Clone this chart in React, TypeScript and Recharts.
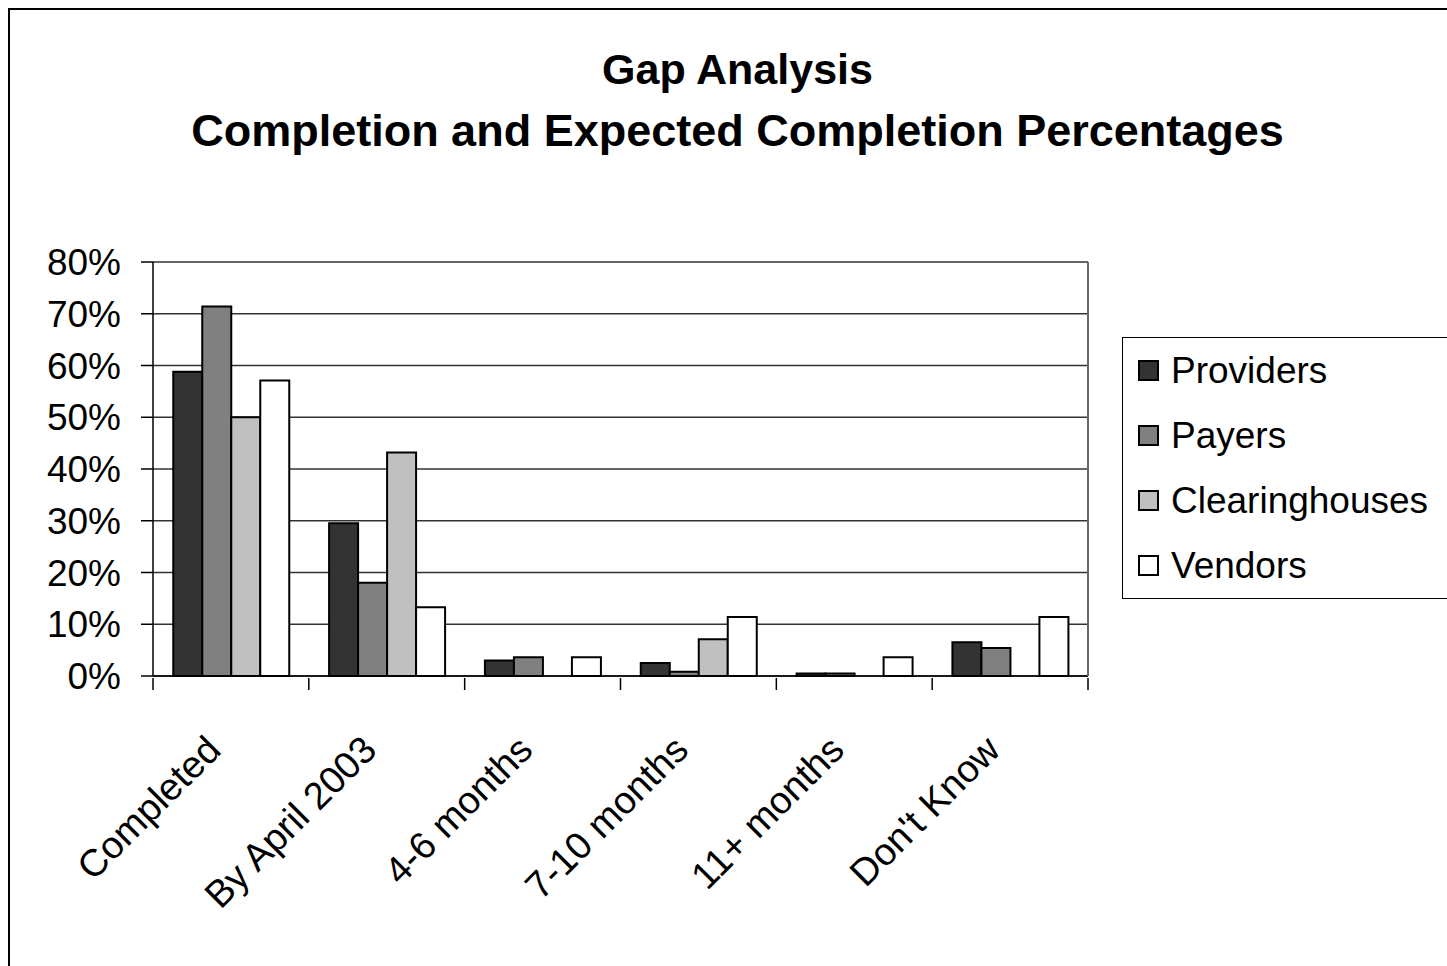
import { BarChart, Bar, XAxis, YAxis, CartesianGrid } from 'recharts';

const categories = ['Completed', 'By April 2003', '4-6 months', '7-10 months', '11+ months', "Don't Know"];
const providers = [58.8, 29.5, 3.0, 2.5, 0.5, 6.5];
const payers = [71.4, 18.0, 3.6, 0.8, 0.5, 5.4];
const clearinghouses = [50.0, 43.2, 0, 7.1, 0, 0];
const vendors = [57.1, 13.3, 3.6, 11.4, 3.6, 11.4];
const yTicks = [0, 10, 20, 30, 40, 50, 60, 70, 80];

const seriesNames = ['Providers', 'Payers', 'Clearinghouses', 'Vendors'];
const seriesColors = ['#333333', '#808080', '#c0c0c0', '#ffffff'];

const data = categories.map((c, i) => ({
  name: c,
  Providers: providers[i],
  Payers: payers[i],
  Clearinghouses: clearinghouses[i],
  Vendors: vendors[i],
}));

const FONT = '"Liberation Sans", Arial, sans-serif';

// category label plus Excel-style tick marks between categories
const CatTick = ({ x, y, payload, index }: any) => {
  const half = payload?.offset ?? 0;
  const top = y - 8;
  return (
    <g>
      <line x1={x - half} x2={x - half} y1={top} y2={top + 12} stroke="#000" strokeWidth={1.5} />
      {index === categories.length - 1 && (
        <line x1={x + half} x2={x + half} y1={top} y2={top + 12} stroke="#000" strokeWidth={1.5} />
      )}
      <text
        x={x - 8}
        y={y + 66}
        transform={`rotate(-45, ${x - 8}, ${y + 66})`}
        textAnchor="end"
        fontSize={38}
        fontFamily={FONT}
        fill="#000"
      >
        {payload.value}
      </text>
    </g>
  );
};

const LegendBox = () => (
  <div
    style={{
      position: 'absolute',
      left: 1122,
      top: 337,
      border: '1px solid #000',
      width: 340,
      height: 262,
      boxSizing: 'border-box',
      fontFamily: FONT,
      fontSize: 37,
      background: '#fff',
    }}
  >
    {seriesNames.map((n, i) => (
      <div key={n} style={{ display: 'flex', alignItems: 'center', height: 65, paddingLeft: 15 }}>
        <span
          style={{
            display: 'inline-block',
            width: 17,
            height: 17,
            border: '2px solid #000',
            background: seriesColors[i],
            marginRight: 12,
          }}
        />
        <span>{n}</span>
      </div>
    ))}
  </div>
);

export default function App() {
  return (
    <div style={{ position: 'relative', width: 1447, height: 966, overflow: 'hidden', background: '#fff' }}>
      <style>{'body{margin:0;overflow:hidden}'}</style>
      <div
        style={{
          position: 'absolute',
          left: 8,
          top: 8,
          width: 1470,
          height: 990,
          border: '2px solid #000',
        }}
      />
      <div
        style={{
          position: 'absolute',
          left: 0,
          top: 38,
          width: 1475,
          textAlign: 'center',
          fontFamily: FONT,
          fontWeight: 'bold',
          lineHeight: '62px',
        }}
      >
        <div style={{ fontSize: 43 }}>Gap Analysis</div>
        <div style={{ fontSize: 45 }}>Completion and Expected Completion Percentages</div>
      </div>
      <div style={{ position: 'absolute', left: 0, top: 0 }}>
        <BarChart
          width={1447}
          height={966}
          data={data}
          margin={{ top: 262, right: 358, left: 0, bottom: 0 }}
          barCategoryGap="13%"
          barGap={0}
        >
          <CartesianGrid vertical={false} stroke="#333" strokeWidth={1.3} yAxisId="l" />
          <XAxis
            dataKey="name"
            height={290}
            axisLine={{ stroke: '#000', strokeWidth: 1.5 }}
            tickLine={false}
            tickSize={8}
            interval={0}
            tick={<CatTick />}
          />
          <YAxis
            yAxisId="l"
            width={153}
            domain={[0, 80]}
            ticks={yTicks}
            interval={0}
            tickFormatter={(v) => `${v}%`}
            axisLine={{ stroke: '#000', strokeWidth: 1.5 }}
            tickLine={{ stroke: '#000', strokeWidth: 1.5 }}
            tickSize={12}
            tickMargin={20}
            tick={{ fontSize: 37, fontFamily: FONT, fill: '#000' }}
          />
          <YAxis
            yAxisId="r"
            orientation="right"
            width={1}
            domain={[0, 80]}
            tick={false}
            tickLine={false}
            axisLine={{ stroke: '#666', strokeWidth: 2 }}
          />
          {seriesNames.map((n, i) => (
            <Bar
              key={n}
              dataKey={n}
              yAxisId="l"
              fill={seriesColors[i]}
              stroke="#000"
              strokeWidth={2}
              isAnimationActive={false}
            />
          ))}
        </BarChart>
      </div>
      <LegendBox />
    </div>
  );
}
